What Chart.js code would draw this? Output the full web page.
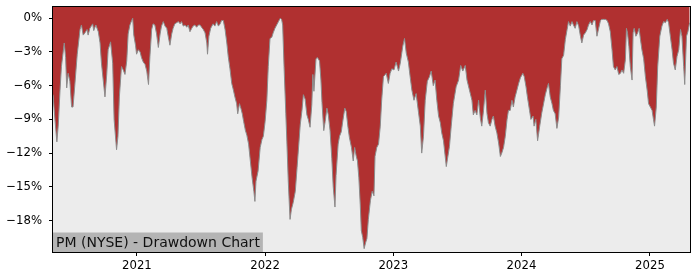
<!DOCTYPE html>
<html><head><meta charset="utf-8">
<script src="https://cdn.jsdelivr.net/npm/chart.js@4.4.1/dist/chart.umd.min.js"></script>
<style>html,body{margin:0;padding:0;background:#fff;}#wrap{width:700px;height:280px;}</style>
</head><body><div id="wrap"><canvas id="c" width="700" height="280"></canvas></div>
<script>
const dates = [
"2020-05-07","2020-05-12","2020-05-18","2020-05-22","2020-05-27","2020-05-31","2020-06-08","2020-06-12","2020-06-15","2020-06-19","2020-06-24","2020-06-29","2020-07-03","2020-07-08","2020-07-15","2020-07-23","2020-07-27","2020-08-01","2020-08-06","2020-08-12","2020-08-15","2020-08-20","2020-08-28","2020-08-31","2020-09-06","2020-09-13","2020-09-18","2020-09-22","2020-09-27","2020-10-02","2020-10-07","2020-10-11","2020-10-18","2020-10-24","2020-10-28","2020-11-04","2020-11-08","2020-11-12","2020-11-18","2020-11-23","2020-11-28","2020-12-03","2020-12-07","2020-12-12","2020-12-17","2020-12-20","2020-12-23","2020-12-28","2020-12-31",
"2021-01-05","2021-01-10","2021-01-14","2021-01-19","2021-01-24","2021-01-29","2021-02-03","2021-02-07","2021-02-12","2021-02-16","2021-02-21","2021-02-26","2021-03-03","2021-03-08","2021-03-12","2021-03-17","2021-03-22","2021-03-27","2021-03-31","2021-04-05","2021-04-10","2021-04-14","2021-04-19","2021-04-24","2021-04-29","2021-05-04","2021-05-08","2021-05-13","2021-05-18","2021-05-23","2021-05-27","2021-06-01","2021-06-06","2021-06-10","2021-06-15","2021-06-20","2021-06-25","2021-06-30","2021-07-04","2021-07-09","2021-07-14","2021-07-19","2021-07-21","2021-07-25","2021-07-30","2021-08-04","2021-08-06","2021-08-11","2021-08-16","2021-08-21","2021-08-26","2021-08-30","2021-09-04","2021-09-09","2021-09-14","2021-09-18","2021-09-23","2021-09-28","2021-10-02","2021-10-07","2021-10-12","2021-10-15","2021-10-20","2021-10-24","2021-10-28","2021-11-01","2021-11-06","2021-11-10","2021-11-15","2021-11-20","2021-11-25","2021-11-30","2021-12-03","2021-12-06","2021-12-12","2021-12-18","2021-12-23","2021-12-27",
"2022-01-01","2022-01-06","2022-01-10","2022-01-15","2022-01-20","2022-01-24","2022-01-29","2022-02-03","2022-02-08","2022-02-13","2022-02-17","2022-02-20","2022-02-24","2022-03-01","2022-03-04","2022-03-08","2022-03-13","2022-03-17","2022-03-22","2022-03-28","2022-04-02","2022-04-07","2022-04-11","2022-04-16","2022-04-20","2022-04-25","2022-04-30","2022-05-04","2022-05-09","2022-05-14","2022-05-17","2022-05-20","2022-05-26","2022-05-30","2022-06-05","2022-06-09","2022-06-12","2022-06-17","2022-06-21","2022-06-26","2022-06-30","2022-07-05","2022-07-10","2022-07-14","2022-07-19","2022-07-22","2022-07-28","2022-08-01","2022-08-06","2022-08-10","2022-08-16","2022-08-20","2022-08-25","2022-08-29","2022-09-04","2022-09-09","2022-09-13","2022-09-17","2022-09-21","2022-09-25","2022-09-29","2022-10-02","2022-10-06","2022-10-10","2022-10-14","2022-10-18","2022-10-22","2022-10-28","2022-11-02","2022-11-07","2022-11-10","2022-11-15","2022-11-20","2022-11-25","2022-11-29","2022-12-04","2022-12-12","2022-12-18","2022-12-23","2022-12-28",
"2023-01-03","2023-01-09","2023-01-16","2023-01-21","2023-01-28","2023-02-02","2023-02-07","2023-02-13","2023-02-18","2023-02-23","2023-03-01","2023-03-07","2023-03-14","2023-03-19","2023-03-23","2023-03-28","2023-04-02","2023-04-08","2023-04-14","2023-04-19","2023-04-25","2023-04-30","2023-05-05","2023-05-10","2023-05-15","2023-05-19","2023-05-24","2023-06-01","2023-06-04","2023-06-10","2023-06-15","2023-06-21","2023-06-29","2023-07-06","2023-07-12","2023-07-18","2023-07-25","2023-07-30","2023-08-06","2023-08-13","2023-08-17","2023-08-22","2023-08-27","2023-09-01","2023-09-06","2023-09-10","2023-09-15","2023-09-20","2023-09-25","2023-09-29","2023-10-04","2023-10-09","2023-10-13","2023-10-18","2023-10-23","2023-10-28","2023-11-02","2023-11-06","2023-11-11","2023-11-16","2023-11-21","2023-11-25","2023-11-30","2023-12-05","2023-12-09","2023-12-14","2023-12-19","2023-12-24","2023-12-29",
"2024-01-05","2024-01-09","2024-01-14","2024-01-18","2024-01-24","2024-01-28","2024-02-03","2024-02-06","2024-02-11","2024-02-16","2024-02-22","2024-02-28","2024-03-04","2024-03-09","2024-03-14","2024-03-18","2024-03-23","2024-03-28","2024-04-01","2024-04-06","2024-04-11","2024-04-16","2024-04-21","2024-04-25","2024-04-30","2024-05-05","2024-05-10","2024-05-14","2024-05-19","2024-05-24","2024-05-28","2024-06-02","2024-06-07","2024-06-12","2024-06-17","2024-06-21","2024-06-26","2024-07-01","2024-07-06","2024-07-10","2024-07-15","2024-07-20","2024-07-24","2024-07-29","2024-08-03","2024-08-08","2024-08-13","2024-08-17","2024-08-22","2024-08-27","2024-09-01","2024-09-05","2024-09-10","2024-09-15","2024-09-19","2024-09-24","2024-09-29","2024-10-04","2024-10-09","2024-10-13","2024-10-18","2024-10-23","2024-10-26","2024-10-29","2024-11-02","2024-11-06","2024-11-11","2024-11-14","2024-11-17","2024-11-22","2024-11-27","2024-12-01","2024-12-05","2024-12-09","2024-12-14","2024-12-19","2024-12-24","2024-12-28",
"2025-01-02","2025-01-07","2025-01-11","2025-01-14","2025-01-19","2025-01-23","2025-01-29","2025-02-04","2025-02-09","2025-02-14","2025-02-19","2025-02-23","2025-02-28","2025-03-05","2025-03-09","2025-03-14","2025-03-19","2025-03-24","2025-03-29","2025-04-02","2025-04-07","2025-04-10","2025-04-15","2025-04-19","2025-04-24"
];
const drawdown = [
-6.8,-8.8,-11.0,-9.5,-6.4,-4.3,-2.2,-3.5,-6.2,-4.9,-5.6,-7.9,-7.9,-6.0,-3.2,-1.0,-0.6,-1.5,-1.3,-1.0,-1.5,-0.9,-0.5,-1.1,-0.6,-1.2,-2.2,-4.0,-5.5,-7.0,-5.0,-2.8,-2.1,-4.0,-9.0,-11.7,-10.5,-7.0,-4.3,-4.6,-5.0,-3.8,-1.4,-0.6,-0.2,0,-1.5,-2.4,-3.2,
-2.8,-3.0,-3.5,-3.9,-4.1,-4.7,-5.9,-3.4,-1.0,-0.5,-0.6,-1.4,-2.6,-1.4,-0.7,-0.3,-0.7,-0.9,-1.6,-2.4,-1.4,-0.9,-0.5,-0.4,-0.3,-0.5,-0.3,-0.7,-0.6,-0.8,-0.6,-1.2,-0.9,-0.7,-0.6,-0.8,-0.6,-0.6,-0.8,-1.0,-1.3,-2.2,-3.2,-1.6,-0.9,-0.6,-0.5,-0.7,-0.3,-0.7,-0.5,-0.2,-0.2,-1.0,-2.2,-3.4,-4.5,-5.8,-6.3,-7.0,-7.6,-8.5,-7.6,-8.0,-8.5,-9.2,-10.0,-10.4,-11.2,-12.7,-14.2,-15.4,-16.3,-14.5,-13.6,-11.5,-10.8,-10.5,
-9.2,-7.3,-4.3,-1.8,-1.7,-1.3,-0.9,-0.6,-0.3,0,-0.1,-0.6,-4.3,-8.5,-11.0,-14.5,-17.9,-17.0,-16.4,-15.4,-13.3,-11.2,-9.5,-8.2,-6.8,-7.2,-8.6,-9.0,-9.7,-7.7,-5.0,-6.5,-3.6,-3.5,-3.8,-5.5,-7.5,-10.0,-9.2,-8.0,-8.6,-10.0,-12.5,-15.0,-16.8,-14.0,-11.2,-10.5,-10.1,-9.2,-8.0,-8.3,-9.7,-10.6,-11.5,-12.7,-11.5,-12.2,-12.7,-14.2,-16.6,-18.9,-19.5,-20.5,-20.0,-19.6,-17.9,-16.2,-15.4,-15.8,-12.3,-11.5,-11.2,-9.6,-7.3,-5.2,-4.9,-5.8,-4.9,-4.5,
-4.6,-3.9,-4.7,-4.0,-2.5,-1.8,-3.1,-3.9,-5.2,-6.4,-7.3,-6.7,-8.4,-9.6,-12.0,-10.5,-7.3,-5.6,-5.2,-4.7,-6.0,-5.5,-7.3,-8.7,-9.3,-10.2,-10.9,-13.2,-12.6,-11.4,-9.6,-7.6,-6.1,-5.5,-4.2,-4.7,-4.2,-5.5,-6.4,-7.3,-8.6,-8.2,-8.6,-7.3,-8.9,-9.6,-8.2,-6.4,-8.5,-9.3,-9.6,-9.0,-8.7,-9.6,-10.2,-11.1,-12.3,-12.0,-11.5,-10.5,-9.0,-8.2,-8.2,-7.3,-7.9,-7.0,-6.4,-5.8,-5.3,
-4.9,-5.2,-6.1,-7.0,-8.2,-9.0,-8.7,-9.6,-9.0,-10.9,-9.6,-8.4,-7.6,-6.8,-6.2,-5.8,-7.0,-7.6,-8.2,-8.5,-9.8,-8.8,-6.0,-3.6,-3.3,-1.9,-1.0,-0.3,-0.7,-0.3,-0.6,-0.9,-0.3,-0.7,-1.6,-2.2,-1.5,-1.3,-1.0,-0.6,-0.3,-0.6,-0.2,-0.2,-1.6,-0.9,-0.2,-0.1,-0.1,-0.1,-0.2,-0.5,-1.2,-2.8,-4.3,-4.6,-4.3,-5.0,-4.9,-4.6,-4.9,-3.7,-0.9,-1.3,-2.5,-4.3,-5.5,-1.3,-0.9,-1.6,-1.3,-0.9,-1.9,-2.8,-3.6,-5.2,-6.4,-7.6,
-7.9,-8.2,-9.0,-9.6,-7.9,-4.3,-1.6,-0.7,-0.3,-0.4,-0.1,-0.4,-1.6,-2.8,-4.0,-4.6,-3.4,-2.8,-1.0,-1.6,-4.3,-5.9,-1.6,-1.2,-0.4
];
const yTicks = [0, -3, -6, -9, -12, -15, -18];
const xTickYears = [2021, 2022, 2023, 2024, 2025];
const chartLabel = 'PM (NYSE) - Drawdown Chart';

const FONT = "'DejaVu Sans', sans-serif";
const DAY = 86400000;
const toMs = d => Date.parse(d + 'T00:00:00Z');
const points = dates.map((d, i) => ({ x: toMs(d), y: drawdown[i] }));

const decor = {
  id: 'decor',
  beforeDatasetsDraw(chart) {
    const { ctx, chartArea: a } = chart;
    ctx.save();
    ctx.fillStyle = '#ececec';
    ctx.fillRect(a.left, a.top, a.right - a.left, a.bottom - a.top);
    ctx.restore();
  },
  afterDatasetsDraw(chart) {
    const { ctx, chartArea: a } = chart;
    ctx.save();
    ctx.font = '14px ' + FONT;
    const tw = ctx.measureText(chartLabel).width;
    const bh = 19.5;
    ctx.fillStyle = '#b4b4b4';
    ctx.fillRect(a.left, a.bottom - bh, tw + 6, bh);
    ctx.fillStyle = '#111';
    ctx.textBaseline = 'alphabetic';
    ctx.textAlign = 'left';
    ctx.fillText(chartLabel, a.left + 3, a.bottom - 4.7);
    ctx.strokeStyle = '#000';
    ctx.lineWidth = 1;
    const l = Math.round(a.left) - 0.5, t = Math.round(a.top) - 0.5;
    const r = Math.round(a.right) + 0.5, b = Math.round(a.bottom) + 0.5;
    ctx.strokeRect(l, t, r - l, b - t);
    ctx.restore();
  }
};

new Chart(document.getElementById('c'), {
  type: 'line',
  data: {
    datasets: [{
      data: points,
      fill: 'end',
      backgroundColor: '#b03030',
      borderColor: '#8c8c8c',
      borderWidth: 1,
      pointRadius: 0,
      tension: 0
    }]
  },
  options: {
    responsive: false,
    animation: false,
    devicePixelRatio: 1,
    events: [],
    layout: { padding: { top: 7, right: 10, left: 0, bottom: 0 } },
    plugins: { legend: { display: false }, tooltip: { enabled: false } },
    scales: {
      x: {
        type: 'linear',
        min: points[0].x,
        max: points[points.length - 1].x + DAY,
        afterBuildTicks: s => { s.ticks = xTickYears.map(y => ({ value: Date.UTC(y, 0, 1) })); },
        afterFit: s => { s.height = 28; s.paddingLeft = 0; s.paddingRight = 0; },
        ticks: {
          autoSkip: false, maxRotation: 0, padding: 3,
          color: '#000', font: { family: FONT, size: 11.7 },
          callback: v => String(new Date(v).getUTCFullYear())
        },
        grid: { drawOnChartArea: false, drawTicks: true, tickLength: 4, color: '#000', tickColor: '#000' },
        border: { display: false }
      },
      y: {
        min: -20.8,
        max: 1.0,
        afterBuildTicks: s => { s.ticks = yTicks.map(v => ({ value: v })); },
        afterFit: s => { s.width = 53; s.paddingTop = 0; s.paddingBottom = 0; },
        ticks: {
          padding: 7,
          color: '#000', font: { family: FONT, size: 11.7 },
          callback: v => (v < 0 ? '\u2212' : '') + Math.abs(v) + '%'
        },
        grid: { drawOnChartArea: false, drawTicks: true, tickLength: 4, color: '#000', tickColor: '#000' },
        border: { display: false }
      }
    }
  },
  plugins: [decor]
});
</script>
</body></html>
